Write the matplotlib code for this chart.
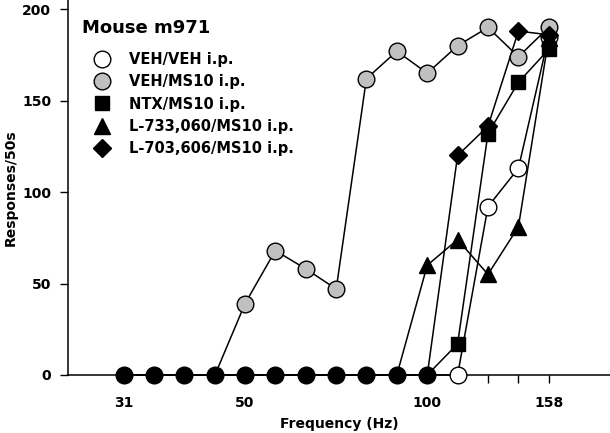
import numpy as np
import matplotlib
matplotlib.use("Agg")
import matplotlib.pyplot as plt
from matplotlib.lines import Line2D
from matplotlib.ticker import FixedLocator, NullLocator

# the reference looks horizontally stretched, DejaVu's wide bold glyphs fit it best
plt.rcParams["font.family"] = ["DejaVu Sans"]
plt.rcParams["font.weight"] = "bold"

# 1/20-decade frequency steps (Hz)
FREQ = [31.6, 35.5, 39.8, 44.7, 50.1, 56.2, 63.1, 70.8, 79.4, 89.1,
        100.0, 112.2, 125.9, 141.3, 158.5]
TICK_FREQ = [31.6, 50.1, 100.0, 158.5]
TICK_LABELS = ["31", "50", "100", "158"]

VEH_VEH   = [0, 0, 0, 0, 0, 0, 0, 0, 0, 0, 0, 0, 92, 113, 185]
VEH_MS10  = [0, 0, 0, 0, 39, 68, 58, 47, 162, 177, 165, 180, 190, 174, 190]
NTX_MS10  = [0, 0, 0, 0, 0, 0, 0, 0, 0, 0, 0, 17, 132, 160, 178]
L733_MS10 = [0, 0, 0, 0, 0, 0, 0, 0, 0, 0, 60, 74, 55, 81, 184]
L703_MS10 = [0, 0, 0, 0, 0, 0, 0, 0, 0, 0, 0, 120, 136, 188, 186]

SERIES = [
    ("VEH/VEH i.p.",        VEH_VEH,   "o", "white",   12),
    ("VEH/MS10 i.p.",       VEH_MS10,  "o", "#c0c0c0", 12),
    ("NTX/MS10 i.p.",       NTX_MS10,  "s", "black",   10),
    ("L-733,060/MS10 i.p.", L733_MS10, "^", "black",   11),
    ("L-703,606/MS10 i.p.", L703_MS10, "D", "black",   9),
]

fig = plt.figure(figsize=(6.10, 4.33), dpi=100)
ax = fig.add_axes([68 / 610, 58 / 433, 542 / 610, 375 / 433])

x = np.array(FREQ)
vals = np.array([s[1] for s in SERIES], dtype=float)
# where several series sit on zero, the original shows one filled black circle
overlap = (vals == 0).sum(axis=0) >= 2

handles = []
for label, y, marker, face, ms in SERIES:
    y = np.array(y, dtype=float)
    ax.plot(x, y, color="black", lw=1.1, zorder=2, clip_on=False)
    ym = np.where((y == 0) & overlap, np.nan, y)
    ax.plot(x, ym, ls="none", marker=marker, ms=ms, mfc=face, mec="black",
            mew=1.0, zorder=3, clip_on=False)
    handles.append(Line2D([], [], ls="none", marker=marker, ms=ms, mfc=face,
                          mec="black", mew=1.0, label=label))

ax.plot(x[overlap], np.zeros(overlap.sum()), ls="none", marker="o", ms=12,
        mfc="black", mec="black", zorder=4, clip_on=False)

ax.set_xscale("log")
ax.set_xlim(25.6, 200)
ax.set_ylim(0, 205)
ax.xaxis.set_major_locator(FixedLocator(FREQ))
ax.xaxis.set_minor_locator(NullLocator())
ax.set_xticklabels([TICK_LABELS[TICK_FREQ.index(f)] if f in TICK_FREQ else ""
                    for f in FREQ])
ax.set_yticks([0, 50, 100, 150, 200])

for side in ("top", "right"):
    ax.spines[side].set_visible(False)
for side in ("left", "bottom"):
    ax.spines[side].set_linewidth(1.1)
ax.tick_params(axis="x", direction="out", length=6, width=1.0, pad=9, labelsize=10)
ax.tick_params(axis="y", direction="out", length=6, width=1.0, pad=6, labelsize=10)

ax.set_xlabel("Frequency (Hz)", fontsize=10, fontweight="bold", labelpad=5)
ax.set_ylabel("Responses/50s", fontsize=10, fontweight="bold", labelpad=3)

ax.text(14 / 542, (375 - 28) / 375, "Mouse m971", transform=ax.transAxes,
        fontsize=13, fontweight="bold", ha="left", va="center")
ax.legend(handles=handles, loc="upper left",
          bbox_to_anchor=(27 / 542, (375 - 52) / 375), frameon=False,
          fontsize=10.5, borderpad=0, borderaxespad=0, handlelength=1.0,
          handletextpad=1.3, labelspacing=0.5)

fig.savefig("out.png", dpi=100, facecolor="white")
plt.close(fig)
